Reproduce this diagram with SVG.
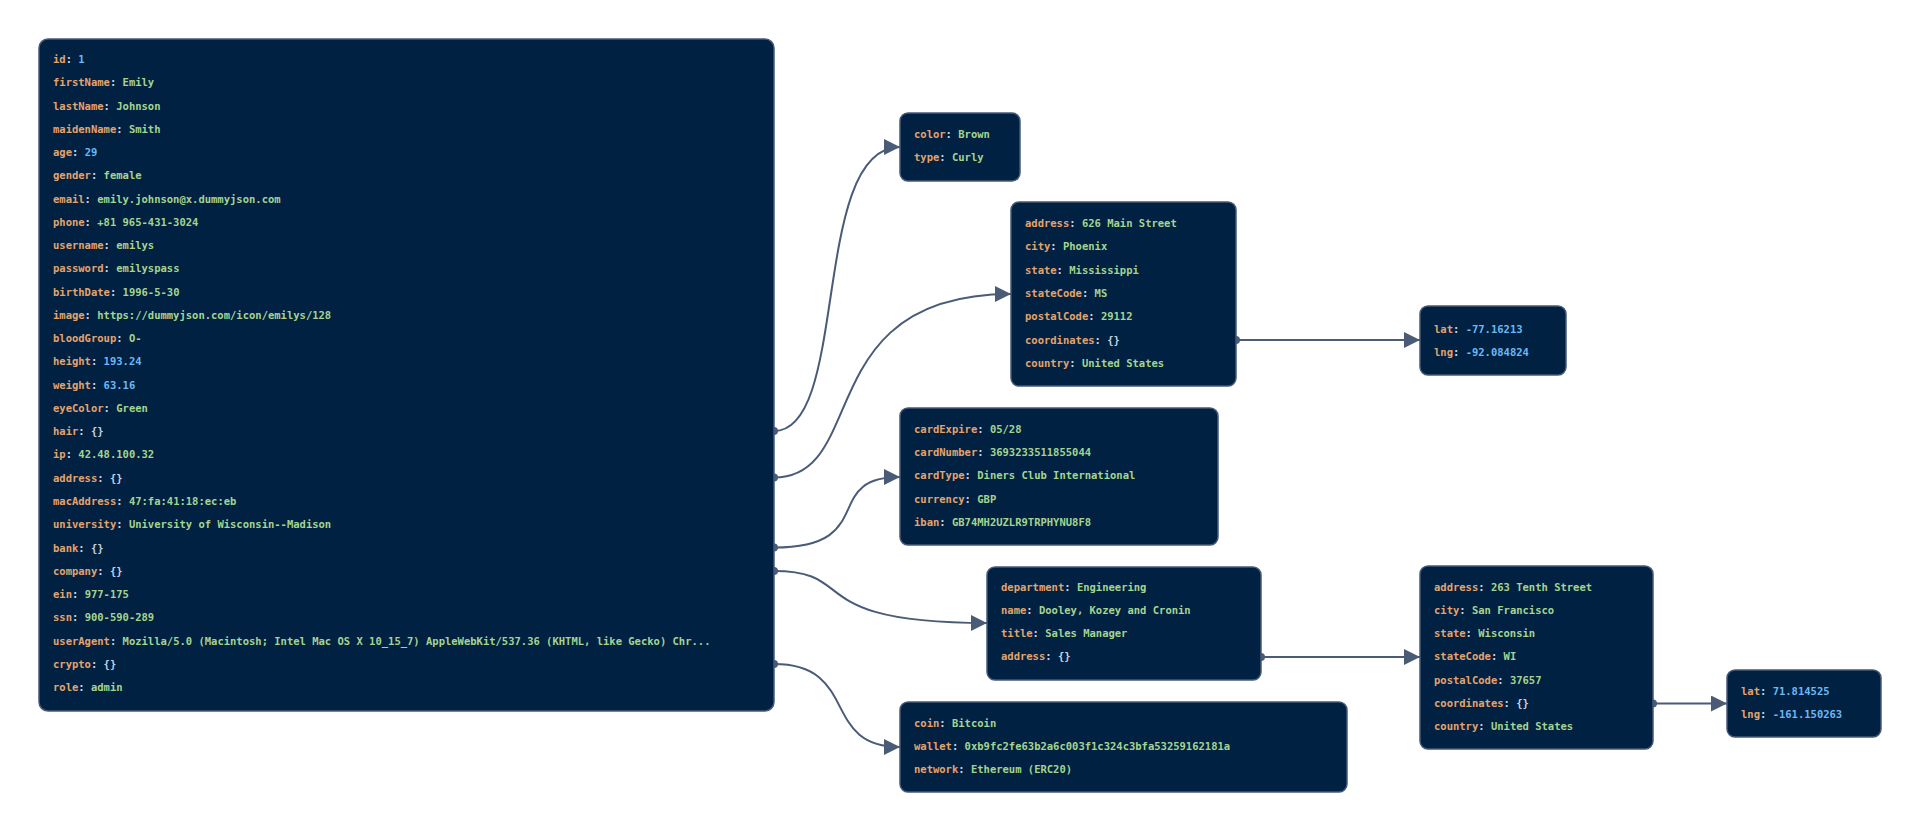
<svg xmlns="http://www.w3.org/2000/svg" width="1920" height="831" viewBox="0 0 1920 831">
<style>
.n{fill:#002142;stroke:#46597a;stroke-width:1.5}
text{font-family:"DejaVu Sans Mono","Liberation Mono",monospace;font-size:10.5px;font-weight:bold;dominant-baseline:central}
.k{fill:#e5a36c}.s{fill:#a5d48f}.u{fill:#6cb8f5}.o{fill:#c9d3e0}
.e{fill:none;stroke:#4a5b78;stroke-width:2}
</style>
<defs>
<marker id="a" markerUnits="userSpaceOnUse" markerWidth="18" markerHeight="18" refX="16" refY="8" orient="auto"><path d="M0,0 L16,8 L0,16 Z" fill="#4a5b78"/></marker>
<marker id="d" markerUnits="userSpaceOnUse" markerWidth="10" markerHeight="10" refX="5" refY="5"><circle cx="5" cy="5" r="4" fill="#4a5b78"/></marker>
</defs>
<g id="edges">
<path class="e" marker-start="url(#d)" marker-end="url(#a)" d="M774,431 C850,431 810,147 900,147"/>
<path class="e" marker-start="url(#d)" marker-end="url(#a)" d="M774,477.5 C870,477.5 810,294 1011,294"/>
<path class="e" marker-start="url(#d)" marker-end="url(#a)" d="M774,547.5 C880,547.5 820,477 900,477"/>
<path class="e" marker-start="url(#d)" marker-end="url(#a)" d="M774,571 C860,571 800,623 987,623"/>
<path class="e" marker-start="url(#d)" marker-end="url(#a)" d="M774,664 C860,664 820,747 900,747"/>
<path class="e" marker-start="url(#d)" marker-end="url(#a)" d="M1236,340 L1420,340"/>
<path class="e" marker-start="url(#d)" marker-end="url(#a)" d="M1261,657 L1420,657"/>
<path class="e" marker-start="url(#d)" marker-end="url(#a)" d="M1653,703.5 L1727,703.5"/>
</g>
<g id="root">
<rect class="n" x="39" y="39" width="735" height="672" rx="9"/>
<text x="53" y="59"><tspan class="k">id</tspan><tspan class="o">: </tspan><tspan class="u">1</tspan></text>
<text x="53" y="82.3"><tspan class="k">firstName</tspan><tspan class="o">: </tspan><tspan class="s">Emily</tspan></text>
<text x="53" y="105.5"><tspan class="k">lastName</tspan><tspan class="o">: </tspan><tspan class="s">Johnson</tspan></text>
<text x="53" y="128.8"><tspan class="k">maidenName</tspan><tspan class="o">: </tspan><tspan class="s">Smith</tspan></text>
<text x="53" y="152"><tspan class="k">age</tspan><tspan class="o">: </tspan><tspan class="u">29</tspan></text>
<text x="53" y="175.3"><tspan class="k">gender</tspan><tspan class="o">: </tspan><tspan class="s">female</tspan></text>
<text x="53" y="198.6"><tspan class="k">email</tspan><tspan class="o">: </tspan><tspan class="s">emily.johnson@x.dummyjson.com</tspan></text>
<text x="53" y="221.8"><tspan class="k">phone</tspan><tspan class="o">: </tspan><tspan class="s">+81 965-431-3024</tspan></text>
<text x="53" y="245.1"><tspan class="k">username</tspan><tspan class="o">: </tspan><tspan class="s">emilys</tspan></text>
<text x="53" y="268.3"><tspan class="k">password</tspan><tspan class="o">: </tspan><tspan class="s">emilyspass</tspan></text>
<text x="53" y="291.6"><tspan class="k">birthDate</tspan><tspan class="o">: </tspan><tspan class="s">1996-5-30</tspan></text>
<text x="53" y="314.9"><tspan class="k">image</tspan><tspan class="o">: </tspan><tspan class="s">https://dummyjson.com/icon/emilys/128</tspan></text>
<text x="53" y="338.1"><tspan class="k">bloodGroup</tspan><tspan class="o">: </tspan><tspan class="s">O-</tspan></text>
<text x="53" y="361.4"><tspan class="k">height</tspan><tspan class="o">: </tspan><tspan class="u">193.24</tspan></text>
<text x="53" y="384.6"><tspan class="k">weight</tspan><tspan class="o">: </tspan><tspan class="u">63.16</tspan></text>
<text x="53" y="407.9"><tspan class="k">eyeColor</tspan><tspan class="o">: </tspan><tspan class="s">Green</tspan></text>
<text x="53" y="431.2"><tspan class="k">hair</tspan><tspan class="o">: {}</tspan></text>
<text x="53" y="454.4"><tspan class="k">ip</tspan><tspan class="o">: </tspan><tspan class="s">42.48.100.32</tspan></text>
<text x="53" y="477.7"><tspan class="k">address</tspan><tspan class="o">: {}</tspan></text>
<text x="53" y="500.9"><tspan class="k">macAddress</tspan><tspan class="o">: </tspan><tspan class="s">47:fa:41:18:ec:eb</tspan></text>
<text x="53" y="524.2"><tspan class="k">university</tspan><tspan class="o">: </tspan><tspan class="s">University of Wisconsin--Madison</tspan></text>
<text x="53" y="547.5"><tspan class="k">bank</tspan><tspan class="o">: {}</tspan></text>
<text x="53" y="570.7"><tspan class="k">company</tspan><tspan class="o">: {}</tspan></text>
<text x="53" y="594"><tspan class="k">ein</tspan><tspan class="o">: </tspan><tspan class="s">977-175</tspan></text>
<text x="53" y="617.2"><tspan class="k">ssn</tspan><tspan class="o">: </tspan><tspan class="s">900-590-289</tspan></text>
<text x="53" y="640.5"><tspan class="k">userAgent</tspan><tspan class="o">: </tspan><tspan class="s">Mozilla/5.0 (Macintosh; Intel Mac OS X 10_15_7) AppleWebKit/537.36 (KHTML, like Gecko) Chr...</tspan></text>
<text x="53" y="663.8"><tspan class="k">crypto</tspan><tspan class="o">: {}</tspan></text>
<text x="53" y="687"><tspan class="k">role</tspan><tspan class="o">: </tspan><tspan class="s">admin</tspan></text>
</g>
<g id="hair">
<rect class="n" x="900" y="113" width="120" height="68" rx="8"/>
<text x="914" y="133.5"><tspan class="k">color</tspan><tspan class="o">: </tspan><tspan class="s">Brown</tspan></text>
<text x="914" y="157"><tspan class="k">type</tspan><tspan class="o">: </tspan><tspan class="s">Curly</tspan></text>
</g>
<g id="address">
<rect class="n" x="1011" y="202" width="225" height="184" rx="8"/>
<text x="1025" y="223"><tspan class="k">address</tspan><tspan class="o">: </tspan><tspan class="s">626 Main Street</tspan></text>
<text x="1025" y="246.3"><tspan class="k">city</tspan><tspan class="o">: </tspan><tspan class="s">Phoenix</tspan></text>
<text x="1025" y="269.6"><tspan class="k">state</tspan><tspan class="o">: </tspan><tspan class="s">Mississippi</tspan></text>
<text x="1025" y="292.9"><tspan class="k">stateCode</tspan><tspan class="o">: </tspan><tspan class="s">MS</tspan></text>
<text x="1025" y="316.2"><tspan class="k">postalCode</tspan><tspan class="o">: </tspan><tspan class="s">29112</tspan></text>
<text x="1025" y="339.5"><tspan class="k">coordinates</tspan><tspan class="o">: {}</tspan></text>
<text x="1025" y="362.8"><tspan class="k">country</tspan><tspan class="o">: </tspan><tspan class="s">United States</tspan></text>
</g>
<g id="coords1">
<rect class="n" x="1420" y="306" width="146" height="69" rx="8"/>
<text x="1434" y="328.5"><tspan class="k">lat</tspan><tspan class="o">: </tspan><tspan class="u">-77.16213</tspan></text>
<text x="1434" y="351.5"><tspan class="k">lng</tspan><tspan class="o">: </tspan><tspan class="u">-92.084824</tspan></text>
</g>
<g id="bank">
<rect class="n" x="900" y="408" width="318" height="137" rx="8"/>
<text x="914" y="428.6"><tspan class="k">cardExpire</tspan><tspan class="o">: </tspan><tspan class="s">05/28</tspan></text>
<text x="914" y="451.9"><tspan class="k">cardNumber</tspan><tspan class="o">: </tspan><tspan class="s">3693233511855044</tspan></text>
<text x="914" y="475.2"><tspan class="k">cardType</tspan><tspan class="o">: </tspan><tspan class="s">Diners Club International</tspan></text>
<text x="914" y="498.5"><tspan class="k">currency</tspan><tspan class="o">: </tspan><tspan class="s">GBP</tspan></text>
<text x="914" y="521.8"><tspan class="k">iban</tspan><tspan class="o">: </tspan><tspan class="s">GB74MH2UZLR9TRPHYNU8F8</tspan></text>
</g>
<g id="company">
<rect class="n" x="987" y="567" width="274" height="113" rx="8"/>
<text x="1001" y="586.5"><tspan class="k">department</tspan><tspan class="o">: </tspan><tspan class="s">Engineering</tspan></text>
<text x="1001" y="609.8"><tspan class="k">name</tspan><tspan class="o">: </tspan><tspan class="s">Dooley, Kozey and Cronin</tspan></text>
<text x="1001" y="633.1"><tspan class="k">title</tspan><tspan class="o">: </tspan><tspan class="s">Sales Manager</tspan></text>
<text x="1001" y="656.4"><tspan class="k">address</tspan><tspan class="o">: {}</tspan></text>
</g>
<g id="companyAddress">
<rect class="n" x="1420" y="566" width="233" height="183" rx="8"/>
<text x="1434" y="586.5"><tspan class="k">address</tspan><tspan class="o">: </tspan><tspan class="s">263 Tenth Street</tspan></text>
<text x="1434" y="609.8"><tspan class="k">city</tspan><tspan class="o">: </tspan><tspan class="s">San Francisco</tspan></text>
<text x="1434" y="633.1"><tspan class="k">state</tspan><tspan class="o">: </tspan><tspan class="s">Wisconsin</tspan></text>
<text x="1434" y="656.4"><tspan class="k">stateCode</tspan><tspan class="o">: </tspan><tspan class="s">WI</tspan></text>
<text x="1434" y="679.7"><tspan class="k">postalCode</tspan><tspan class="o">: </tspan><tspan class="s">37657</tspan></text>
<text x="1434" y="703"><tspan class="k">coordinates</tspan><tspan class="o">: {}</tspan></text>
<text x="1434" y="726.3"><tspan class="k">country</tspan><tspan class="o">: </tspan><tspan class="s">United States</tspan></text>
</g>
<g id="coords2">
<rect class="n" x="1727" y="670" width="154" height="67" rx="8"/>
<text x="1741" y="690.6"><tspan class="k">lat</tspan><tspan class="o">: </tspan><tspan class="u">71.814525</tspan></text>
<text x="1741" y="714"><tspan class="k">lng</tspan><tspan class="o">: </tspan><tspan class="u">-161.150263</tspan></text>
</g>
<g id="crypto">
<rect class="n" x="900" y="702" width="447" height="90" rx="8"/>
<text x="914" y="722.5"><tspan class="k">coin</tspan><tspan class="o">: </tspan><tspan class="s">Bitcoin</tspan></text>
<text x="914" y="745.8"><tspan class="k">wallet</tspan><tspan class="o">: </tspan><tspan class="s">0xb9fc2fe63b2a6c003f1c324c3bfa53259162181a</tspan></text>
<text x="914" y="769.1"><tspan class="k">network</tspan><tspan class="o">: </tspan><tspan class="s">Ethereum (ERC20)</tspan></text>
</g>
</svg>
